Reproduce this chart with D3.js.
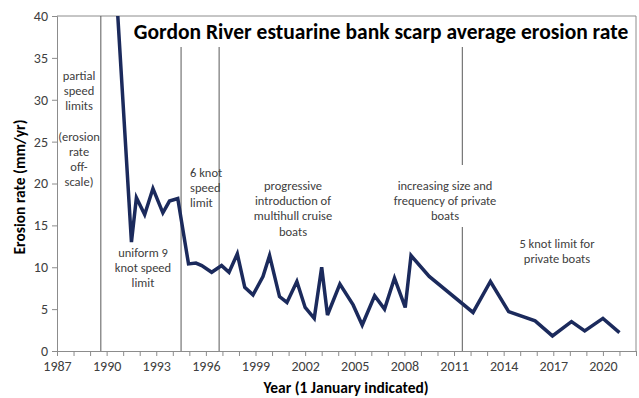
<!DOCTYPE html>
<html>
<head>
<meta charset="utf-8">
<script src="https://cdn.jsdelivr.net/npm/d3@7"></script>
<style>
  body { margin: 0; background: #fff; }
  text { font-family: Carlito, Lato, "Open Sans", sans-serif; }
</style>
</head>
<body>
<svg id="chart" width="639" height="398"></svg>
<script>
// survey dates (decimal years) and average erosion rate (mm/yr)
var years = [1990.4, 1991.5, 1991.8, 1992.3, 1992.8, 1993.4, 1993.8, 1994.3, 1994.95, 1995.4,
  1995.75, 1996.35, 1996.95, 1997.4, 1997.9, 1998.35, 1998.85, 1999.45, 1999.85, 2000.45,
  2000.9, 2001.5, 2002.0, 2002.55, 2003.0, 2003.35, 2004.1, 2004.9, 2005.45, 2006.2,
  2006.8, 2007.4, 2008.05, 2008.4, 2009.5, 2012.15, 2013.2, 2014.3, 2015.9, 2016.95,
  2018.1, 2018.9, 2020.0, 2021.0];
var rates = [49, 13.0, 18.3, 16.3, 19.4, 16.5, 17.9, 18.2, 10.4, 10.5,
  10.2, 9.4, 10.2, 9.4, 11.6, 7.6, 6.7, 8.9, 11.4, 6.5,
  5.8, 8.3, 5.2, 3.9, 10.0, 4.3, 8.0, 5.5, 3.1, 6.6,
  5.0, 8.7, 5.2, 11.4, 8.9, 4.6, 8.3, 4.7, 3.6, 1.8,
  3.5, 2.4, 3.9, 2.2];

var yearTicks = d3.range(1987, 2023);
var rateTicks = [0, 5, 10, 15, 20, 25, 30, 35, 40];
var changeYears = [1989.65, 1994.5, 1996.8, 2011.5];

var titleText = "Gordon River estuarine bank scarp average erosion rate";
var xLabel = "Year (1 January indicated)";
var yLabel = "Erosion rate (mm/yr)";

var notePartial = ["partial", "speed", "limits", "", "(erosion", "rate", "off-", "scale)"];
var noteNine = ["uniform 9", "knot speed", "limit"];
var noteSix = ["6 knot", "speed", "limit"];
var noteMulti = ["progressive", "introduction of", "multihull cruise", "boats"];
var notePrivate = ["increasing size and", "frequency of private", "boats"];
var noteFive = ["5 knot limit for", "private boats"];

var svg = d3.select("#chart");
var margin = { left: 57, right: 3, top: 16, bottom: 47 };
var W = 639, H = 398;

var x = d3.scaleLinear().domain([1987, 2022]).range([margin.left, W - margin.right]);
var y = d3.scaleLinear().domain([0, 40]).range([H - margin.bottom, margin.top]);

var axisColor = "#8c8c8c";
var textColor = "#404040";

// plot frame (top and right)
svg.append("path")
  .attr("d", "M" + x(1987) + "," + y(40) + "H" + x(2022) + "V" + y(0))
  .attr("fill", "none")
  .attr("stroke", axisColor)
  .attr("stroke-width", 1);

// y axis
var yAxis = svg.append("g")
  .attr("transform", "translate(" + x(1987) + ",0)")
  .call(d3.axisLeft(y).tickValues(rateTicks).tickSize(5).tickPadding(4));
yAxis.select(".domain").attr("stroke", axisColor);
yAxis.selectAll(".tick line").attr("stroke", axisColor);
yAxis.selectAll(".tick text")
  .style("font-size", "14px")
  .attr("fill", textColor);

// x axis
var xAxis = svg.append("g")
  .attr("transform", "translate(0," + y(0) + ")")
  .call(d3.axisBottom(x).tickValues(yearTicks).tickSize(5).tickPadding(5)
    .tickFormat(function (d) { return (d - 1987) % 3 === 0 ? d : ""; }));
xAxis.select(".domain").attr("stroke", axisColor);
xAxis.selectAll(".tick line").attr("stroke", axisColor);
xAxis.selectAll(".tick text")
  .style("font-size", "14px")
  .attr("fill", textColor);

// management change lines
var vl = svg.append("g").attr("stroke", "#595959").attr("stroke-width", 1);
vl.append("line").attr("x1", x(changeYears[0])).attr("x2", x(changeYears[0]))
  .attr("y1", y(40)).attr("y2", y(0));
vl.append("line").attr("x1", x(changeYears[1])).attr("x2", x(changeYears[1]))
  .attr("y1", 47).attr("y2", y(0));
vl.append("line").attr("x1", x(changeYears[2])).attr("x2", x(changeYears[2]))
  .attr("y1", 47).attr("y2", y(0));
vl.append("line").attr("x1", x(changeYears[3])).attr("x2", x(changeYears[3]))
  .attr("y1", 47).attr("y2", 165);
vl.append("line").attr("x1", x(changeYears[3])).attr("x2", x(changeYears[3]))
  .attr("y1", 227).attr("y2", y(0));

// clip the series to the plot area
svg.append("defs").append("clipPath").attr("id", "plotclip")
  .append("rect")
  .attr("x", x(1987)).attr("y", y(40))
  .attr("width", x(2022) - x(1987)).attr("height", y(0) - y(40));

var line = d3.line()
  .x(function (d, i) { return x(years[i]); })
  .y(function (d) { return y(d); });

svg.append("path")
  .datum(rates)
  .attr("clip-path", "url(#plotclip)")
  .attr("d", line)
  .attr("fill", "none")
  .attr("stroke", "#1b2a5c")
  .attr("stroke-width", 3.5)
  .attr("stroke-linejoin", "miter");

// title
svg.append("text")
  .attr("x", 381)
  .attr("y", 39)
  .attr("text-anchor", "middle")
  .style("font-size", "21.5px")
  .style("font-weight", "bold")
  .attr("fill", "#000")
  .text(titleText);

// annotation blocks
function note(lines, cx, cy, anchor) {
  var t = svg.append("text")
    .attr("text-anchor", anchor || "middle")
    .style("font-size", "12.5px")
    .attr("fill", textColor);
  lines.forEach(function (s, i) {
    t.append("tspan")
      .attr("x", cx)
      .attr("y", cy + i * 15.2)
      .text(s);
  });
}
note(notePartial, 79, 80);
note(noteNine, 143, 257);
note(noteSix, 190, 177, "start");
note(noteMulti, 293, 190);
note(notePrivate, 445, 190);
note(noteFive, 557, 248);

// axis titles
svg.append("text")
  .attr("x", 346)
  .attr("y", 393)
  .attr("text-anchor", "middle")
  .style("font-size", "15.5px")
  .style("font-weight", "bold")
  .attr("fill", "#000")
  .text(xLabel);

svg.append("text")
  .attr("transform", "translate(25,187) rotate(-90)")
  .attr("text-anchor", "middle")
  .style("font-size", "15.5px")
  .style("font-weight", "bold")
  .attr("fill", "#000")
  .text(yLabel);
</script>
</body>
</html>
